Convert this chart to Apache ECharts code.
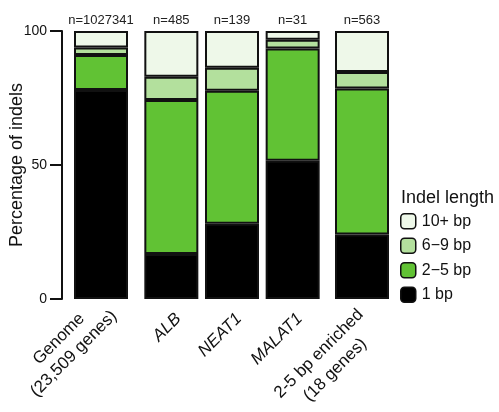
<!DOCTYPE html>
<html>
<head>
<meta charset="utf-8">
<script src="https://cdn.jsdelivr.net/npm/echarts@6/dist/echarts.min.js"></script>
<style>html,body{margin:0;padding:0;background:#fff}#c{width:499px;height:412px}</style>
</head>
<body>
<div id="c"></div>
<script>
// ---- data ----
var categories = ['Genome\n(23,509 genes)', 'ALB', 'NEAT1', 'MALAT1', '2-5 bp enriched\n(18 genes)'];
var italicCategory = [false, true, true, true, false];
var nLabels = ['n=1027341', 'n=485', 'n=139', 'n=31', 'n=563'];
var seriesNames = ['1 bp', '2\u22125 bp', '6\u22129 bp', '10+ bp'];
var bp1 = [78.0, 16.8, 28.1, 51.6, 24.1];
var bp2to5 = [13.0, 57.5, 49.6, 41.9, 54.4];
var bp6to9 = [2.8, 8.6, 8.6, 3.2, 6.2];
var bp10plus = [6.2, 17.1, 13.7, 3.3, 15.3];
var yTicks = [0, 50, 100];
// panel grouping of categories
var groups = [[0], [1, 2, 3], [4]];

var values = [bp1, bp2to5, bp6to9, bp10plus];
var colors = ['#000000', '#61c234', '#b3e09d', '#eef8e9'];
var FONT = '"Liberation Sans", Arial, Helvetica, sans-serif';
var TXT = '#111';

var grids = [
  {left: 73, width: 56, top: 31, height: 268, containLabel: false, outerBoundsMode: 'none'},
  {left: 141, width: 182, top: 31, height: 268, containLabel: false, outerBoundsMode: 'none'},
  {left: 334, width: 56, top: 31, height: 268, containLabel: false, outerBoundsMode: 'none'}
];
// label placement per panel (style only)
var labelStyle = [
  {verticalAlign: 'middle', margin: 0, padding: [18, 0, 0, 0], lh: 21, w: 116},
  {verticalAlign: 'top', margin: 10, padding: 0, lh: 20, w: 120},
  {verticalAlign: 'middle', margin: 13, padding: [21, 0, 0, 0], lh: 23, w: 120}
];

var xAxes = [], yAxes = [], series = [];
groups.forEach(function (idx, g) {
  var ls = labelStyle[g];
  xAxes.push({
    type: 'category', gridIndex: g,
    data: idx.map(function (i) { return categories[i]; }),
    axisLine: {show: false}, axisTick: {show: false},
    axisLabel: {
      interval: 0, rotate: 45, align: 'right', verticalAlign: ls.verticalAlign, margin: ls.margin,
      padding: ls.padding, hideOverlap: false,
      formatter: function (v) {
        var i = categories.indexOf(v);
        if (italicCategory[i]) return '{i|' + v + '}';
        return v.split('\n').map(function (l) { return '{c|' + l + '}'; }).join('\n');
      },
      rich: {
        i: {fontFamily: FONT, fontSize: 17, fontStyle: 'italic', color: TXT, lineHeight: ls.lh},
        c: {fontFamily: FONT, fontSize: 17, color: TXT, width: ls.w, align: 'center', lineHeight: ls.lh}
      }
    }
  });
  var ya = {
    type: 'value', gridIndex: g, min: 0, max: 100, interval: 50,
    splitLine: {show: false}
  };
  if (g === 0) {
    ya.offset = 11;
    ya.axisLine = {show: true, lineStyle: {color: TXT, width: 2}};
    ya.axisTick = {show: true, length: 12, lineStyle: {color: TXT, width: 2}};
    ya.axisLabel = {show: true, fontFamily: FONT, fontSize: 14, color: TXT, margin: 15,
      formatter: function (v) { return yTicks.indexOf(v) >= 0 ? String(v) : ''; }};
    ya.name = 'Percentage of indels';
    ya.nameLocation = 'middle';
    ya.nameGap = 36;
    ya.nameMoveOverlap = false;
    ya.nameTextStyle = {fontFamily: FONT, fontSize: 18, color: TXT};
  } else {
    ya.show = false;
  }
  yAxes.push(ya);
  values.forEach(function (arr, s) {
    var ser = {
      type: 'bar', name: seriesNames[s], xAxisIndex: g, yAxisIndex: g,
      stack: 'p' + g, barWidth: 54,
      data: idx.map(function (i) { return arr[i]; }),
      itemStyle: {color: colors[s], borderColor: '#111', borderWidth: 2}
    };
    if (s === values.length - 1) {
      ser.label = {
        show: true, position: 'top', distance: 4,
        fontFamily: FONT, fontSize: 13, color: '#222',
        formatter: function (p) { return nLabels[idx[p.dataIndex]]; }
      };
    }
    series.push(ser);
  });
});

var chart = echarts.init(document.getElementById('c'), null, {renderer: 'canvas'});
chart.setOption({
  animation: false,
  backgroundColor: '#fff',
  textStyle: {fontFamily: FONT},
  title: {
    text: 'Indel length', left: 401, top: 189, padding: 0,
    textStyle: {fontFamily: FONT, fontSize: 18, fontWeight: 'normal', color: TXT}
  },
  legend: {
    orient: 'vertical', left: 400, top: 213, padding: 0,
    itemWidth: 15, itemHeight: 15, itemGap: 8,
    data: ['10+ bp', '6\u22129 bp', '2\u22125 bp', '1 bp'],
    textStyle: {fontFamily: FONT, fontSize: 16, color: TXT, padding: [0, 0, 0, 1]},
    itemStyle: {borderColor: '#111', borderWidth: 1.5}
  },
  grid: grids,
  xAxis: xAxes,
  yAxis: yAxes,
  series: series
});
</script>
</body>
</html>
